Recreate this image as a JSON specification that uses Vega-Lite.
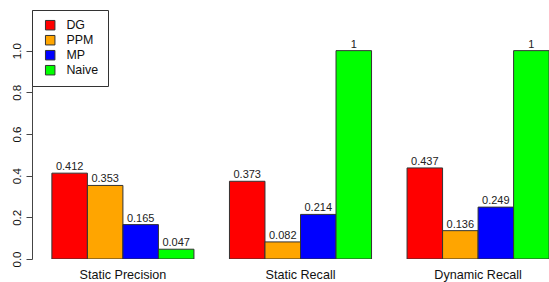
{
  "$schema": "https://vega.github.io/schema/vega-lite/v6.json",
  "width": 517,
  "height": 249,
  "autosize": {"type": "none"},
  "padding": {"left": 32, "top": 10, "right": 0, "bottom": 23},
  "background": "white",
  "config": {"view": {"stroke": null}, "font": "Liberation Sans"},
  "data": {
    "values": [
      {"group": "Static Precision", "method": "DG", "value": 0.412},
      {"group": "Static Precision", "method": "PPM", "value": 0.353},
      {"group": "Static Precision", "method": "MP", "value": 0.165},
      {"group": "Static Precision", "method": "Naive", "value": 0.047},
      {"group": "Static Recall", "method": "DG", "value": 0.373},
      {"group": "Static Recall", "method": "PPM", "value": 0.082},
      {"group": "Static Recall", "method": "MP", "value": 0.214},
      {"group": "Static Recall", "method": "Naive", "value": 1},
      {"group": "Dynamic Recall", "method": "DG", "value": 0.437},
      {"group": "Dynamic Recall", "method": "PPM", "value": 0.136},
      {"group": "Dynamic Recall", "method": "MP", "value": 0.249},
      {"group": "Dynamic Recall", "method": "Naive", "value": 1}
    ]
  },
  "encoding": {
    "x": {
      "field": "group",
      "type": "nominal",
      "sort": ["Static Precision", "Static Recall", "Dynamic Recall"],
      "scale": {"range": [0, 537], "paddingInner": 0.2, "paddingOuter": 0.112},
      "axis": {
        "title": null,
        "domain": false,
        "ticks": false,
        "tickSize": 0,
        "labelAngle": 0,
        "labelFontSize": 12.6,
        "labelColor": "#111",
        "labelBaseline": "alphabetic",
        "labelPadding": 19
      }
    },
    "xOffset": {
      "field": "method",
      "type": "nominal",
      "sort": ["DG", "PPM", "MP", "Naive"],
      "scale": {"paddingInner": 0, "paddingOuter": 0}
    },
    "y": {
      "field": "value",
      "type": "quantitative",
      "scale": {"domain": [0, 1.195], "nice": false, "zero": true},
      "axis": {
        "title": null,
        "grid": false,
        "values": [0, 0.2, 0.4, 0.6, 0.8, 1.0],
        "format": ".1f",
        "labelAngle": -90,
        "labelAlign": "center",
        "labelBaseline": "alphabetic",
        "labelPadding": 6,
        "labelFontSize": 11.5,
        "labelColor": "#111",
        "tickSize": 6,
        "tickColor": "#444",
        "domainColor": "#444"
      }
    }
  },
  "layer": [
    {
      "mark": {"type": "bar", "stroke": "#333", "strokeWidth": 1, "clip": true},
      "encoding": {
        "color": {
          "field": "method",
          "type": "nominal",
          "scale": {
            "domain": ["DG", "PPM", "MP", "Naive"],
            "range": ["#FF0000", "#FFA500", "#0000FF", "#00FF00"]
          },
          "legend": {
            "title": null,
            "orient": "top-left",
            "offset": 0,
            "padding": 9,
            "strokeColor": "#333",
            "fillColor": "white",
            "symbolType": "square",
            "symbolSize": 90,
            "symbolStrokeColor": "#333",
            "symbolStrokeWidth": 1,
            "symbolOffset": 3,
            "labelOffset": 10,
            "labelFontSize": 12.4,
            "labelColor": "#111",
            "rowPadding": 1
          }
        }
      }
    },
    {
      "mark": {"type": "text", "baseline": "alphabetic", "dy": -3, "fontSize": 11, "color": "#222", "clip": true},
      "encoding": {
        "text": {"field": "value", "type": "quantitative"}
      }
    }
  ]
}
